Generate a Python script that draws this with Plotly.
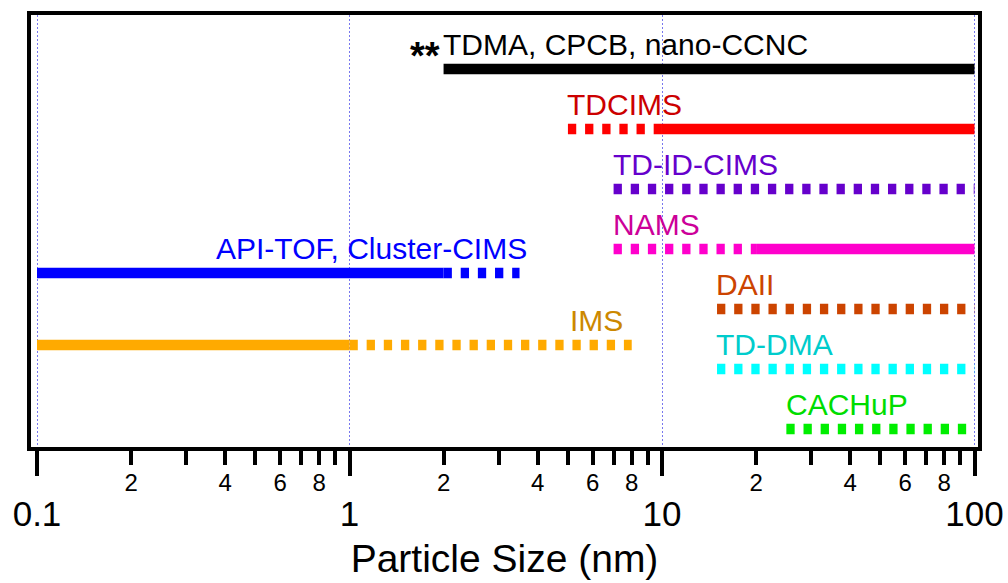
import math
import plotly.graph_objects as go

# Instrument size ranges (nm); solid = established range, dotted = extended range
instruments = ["TDMA, CPCB, nano-CCNC", "TDCIMS", "TD-ID-CIMS", "NAMS",
               "API-TOF, Cluster-CIMS", "DAII", "IMS", "TD-DMA", "CACHuP"]
rows = [7, 6, 5, 4, 3.6, 3, 2.4, 2, 1]
solid_lo = [2, 10, None, 20, 0.1, None, 0.1, None, None]
solid_hi = [100, 100, None, 100, 2, None, 1, None, None]
dotted_lo = [None, 5, 7, 7, 2, 15, 1, 15, 25]
dotted_hi = [None, 10, 100, 20, 3.5, 100, 8, 100, 100]

line_colors = ["#000000", "#ff0000", "#6600cc", "#ff00cc", "#0000ff",
               "#cc4400", "#ffaa00", "#00ffff", "#00ee00"]
text_colors = ["#000000", "#cc0000", "#6600cc", "#cc0099", "#0000ff",
               "#cc4400", "#cc8800", "#00cccc", "#00dd00"]

# label placement: anchor side and small horizontal nudge in pixels
label_anchor = ["left", "left", "left", "left", "right", "left", "right", "left", "left"]
label_xshift = [-3, -3, -3, -3, 9, -3, -7, -3, -2]

# axis ticks
major_ticks = [0.1, 1, 10, 100]
major_text = ["0.1", "1", "10", "100"]
minor_ticks = [m * d for d in (0.1, 1, 10) for m in range(2, 10)]
minor_text = [str(m) if m % 2 == 0 else "" for d in (0.1, 1, 10) for m in range(2, 10)]

FONT = "Liberation Sans, Arial, sans-serif"
LW = 10.5
DOT = "8.3px,8.85px"

fig = go.Figure()

for i, name in enumerate(instruments):
    if dotted_lo[i] is not None:
        fig.add_trace(go.Scatter(
            x=[dotted_lo[i], dotted_hi[i]], y=[rows[i], rows[i]], mode="lines",
            line=dict(color=line_colors[i], width=LW, dash=DOT),
            hoverinfo="skip", showlegend=False))
    if solid_lo[i] is not None:
        fig.add_trace(go.Scatter(
            x=[solid_lo[i], solid_hi[i]], y=[rows[i], rows[i]], mode="lines",
            line=dict(color=line_colors[i], width=LW),
            hoverinfo="skip", showlegend=False))

    lows = [v for v in (solid_lo[i], dotted_lo[i]) if v is not None]
    highs = [v for v in (solid_hi[i], dotted_hi[i]) if v is not None]
    lx = min(lows) if label_anchor[i] == "left" else max(highs)
    # annotation x on a log axis is given in log10 units
    fig.add_annotation(
        x=math.log10(lx), y=rows[i], xref="x", yref="y", text=name,
        showarrow=False, xanchor=label_anchor[i], yanchor="middle",
        yshift=24.5, xshift=label_xshift[i],
        font=dict(family=FONT, size=30, color=text_colors[i]))

# footnote marker in front of the first label
fig.add_annotation(
    x=math.log10(solid_lo[0]), y=rows[0], xref="x", yref="y", text="<b>**</b>",
    showarrow=False, xanchor="right", yanchor="middle", yshift=13, xshift=-2,
    font=dict(family=FONT, size=38, color="#000000"))

# decade axis overlay carries the grid, long ticks and large labels
fig.add_trace(go.Scatter(x=[0.1, 100], y=[None, None], xaxis="x2", yaxis="y",
                         mode="lines", hoverinfo="skip", showlegend=False))

xr = [-1.0192, 2.0112]
fig.update_layout(
    width=1008, height=583,
    margin=dict(l=31, r=30, t=15, b=136, autoexpand=False),
    paper_bgcolor="white", plot_bgcolor="white",
    font=dict(family=FONT, color="black"),
    xaxis=dict(
        type="log", range=xr, tickmode="array", automargin=False,
        tickvals=minor_ticks, ticktext=minor_text,
        ticks="outside", ticklen=14, tickwidth=4, tickcolor="black",
        tickfont=dict(family=FONT, size=24, color="black"),
        ticklabelstandoff=-3,
        showline=True, linewidth=4, linecolor="black", mirror=True,
        showgrid=False, zeroline=False),
    xaxis2=dict(
        type="log", range=xr, overlaying="x", anchor="y", side="bottom",
        automargin=False,
        tickmode="array", tickvals=major_ticks, ticktext=major_text,
        ticks="outside", ticklen=28, tickwidth=4, tickcolor="black",
        tickfont=dict(family=FONT, size=35, color="black"),
        ticklabelstandoff=8,
        showline=False, showgrid=True, gridcolor="#7878ee", gridwidth=1,
        griddash="2px,2px", zeroline=False,
        title=dict(text="Particle Size (nm)", standoff=12,
                   font=dict(family=FONT, size=39, color="black"))),
    yaxis=dict(
        range=[0.7, 7.9], showticklabels=False, ticks="", showgrid=False,
        zeroline=False, showline=True, linewidth=4, linecolor="black",
        mirror=True, automargin=False),
)

fig.write_html("out.html")
